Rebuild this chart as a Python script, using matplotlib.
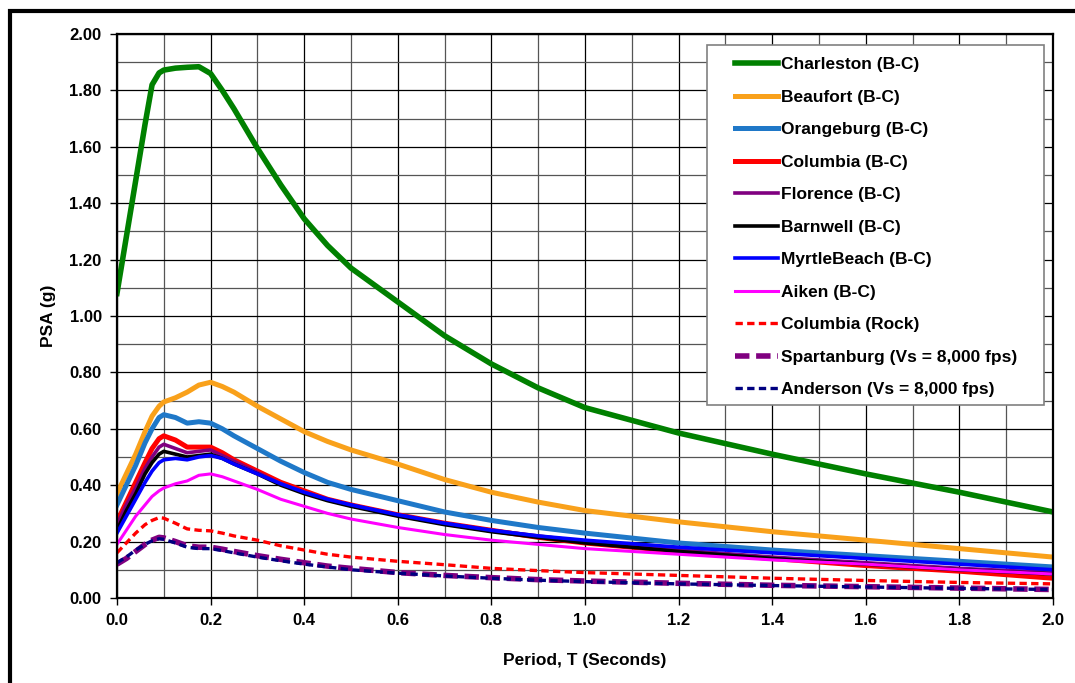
import matplotlib
matplotlib.use('Agg')
import matplotlib.pyplot as plt
from matplotlib.ticker import MultipleLocator, FormatStrFormatter
from matplotlib.patches import Rectangle

plt.rcParams['font.family'] = ['Liberation Sans', 'DejaVu Sans']
plt.rcParams['font.weight'] = 'bold'

## data (period in seconds, PSA in g)
period = [0.0, 0.02, 0.04, 0.06, 0.075, 0.09, 0.1, 0.125, 0.15, 0.175, 0.2, 0.225, 0.25, 0.3,
          0.35, 0.4, 0.45, 0.5, 0.6, 0.7, 0.8, 0.9, 1.0, 1.2, 1.4, 1.6, 1.8, 2.0]

charleston = [1.08, 1.28, 1.48, 1.68, 1.82, 1.862, 1.872, 1.879, 1.882, 1.884, 1.86, 1.80, 1.735, 1.595,
              1.465, 1.345, 1.25, 1.17, 1.05, 0.93, 0.83, 0.745, 0.675, 0.585, 0.51, 0.44, 0.375, 0.305]
beaufort = [0.37, 0.44, 0.51, 0.59, 0.645, 0.68, 0.695, 0.71, 0.73, 0.755, 0.765, 0.75, 0.73, 0.68,
            0.635, 0.59, 0.555, 0.525, 0.475, 0.42, 0.375, 0.34, 0.31, 0.27, 0.235, 0.205, 0.175, 0.145]
orangeburg = [0.33, 0.40, 0.47, 0.55, 0.60, 0.64, 0.65, 0.64, 0.62, 0.625, 0.62, 0.60, 0.575, 0.53,
              0.485, 0.445, 0.41, 0.385, 0.345, 0.305, 0.275, 0.25, 0.23, 0.195, 0.17, 0.15, 0.13, 0.11]
columbia = [0.27, 0.34, 0.41, 0.48, 0.53, 0.565, 0.575, 0.56, 0.535, 0.535, 0.535, 0.515, 0.49, 0.45,
            0.41, 0.38, 0.35, 0.33, 0.295, 0.265, 0.24, 0.215, 0.195, 0.165, 0.14, 0.115, 0.095, 0.07]
florence = [0.26, 0.33, 0.39, 0.46, 0.50, 0.535, 0.545, 0.53, 0.515, 0.52, 0.525, 0.505, 0.485, 0.445,
            0.405, 0.375, 0.35, 0.33, 0.295, 0.265, 0.24, 0.22, 0.2, 0.17, 0.145, 0.125, 0.105, 0.09]
barnwell = [0.24, 0.31, 0.37, 0.44, 0.48, 0.51, 0.52, 0.51, 0.50, 0.505, 0.51, 0.495, 0.475, 0.44,
            0.40, 0.37, 0.345, 0.325, 0.29, 0.26, 0.235, 0.215, 0.195, 0.165, 0.14, 0.12, 0.10, 0.085]
myrtle = [0.23, 0.29, 0.35, 0.41, 0.45, 0.48, 0.49, 0.495, 0.49, 0.50, 0.505, 0.495, 0.475, 0.44,
          0.405, 0.375, 0.35, 0.33, 0.295, 0.265, 0.24, 0.22, 0.205, 0.18, 0.16, 0.14, 0.12, 0.10]
aiken = [0.19, 0.24, 0.29, 0.33, 0.36, 0.38, 0.39, 0.405, 0.415, 0.435, 0.44, 0.43, 0.415, 0.385,
         0.35, 0.325, 0.30, 0.28, 0.25, 0.225, 0.205, 0.19, 0.175, 0.155, 0.135, 0.12, 0.10, 0.085]
columbia_rock = [0.16, 0.195, 0.23, 0.26, 0.275, 0.285, 0.283, 0.265, 0.245, 0.24, 0.238, 0.23, 0.22, 0.205,
                 0.185, 0.17, 0.155, 0.145, 0.13, 0.118, 0.105, 0.097, 0.09, 0.08, 0.07, 0.062, 0.055, 0.05]
spartanburg = [0.12, 0.14, 0.165, 0.19, 0.205, 0.215, 0.213, 0.2, 0.185, 0.18, 0.18, 0.173, 0.165, 0.15,
               0.137, 0.125, 0.113, 0.105, 0.09, 0.08, 0.072, 0.065, 0.06, 0.052, 0.045, 0.04, 0.035, 0.03]
anderson = [0.125, 0.145, 0.17, 0.19, 0.203, 0.21, 0.208, 0.195, 0.18, 0.175, 0.175, 0.168, 0.16, 0.145,
            0.132, 0.12, 0.11, 0.10, 0.088, 0.078, 0.07, 0.063, 0.058, 0.05, 0.044, 0.039, 0.034, 0.03]

## series settings: (label, data, color, lw, dashes)
series = [
    ('Charleston (B-C)', charleston, '#008000', 4.0, None),
    ('Beaufort (B-C)', beaufort, '#F9A11B', 3.6, None),
    ('Orangeburg (B-C)', orangeburg, '#1F78C8', 3.6, None),
    ('Columbia (B-C)', columbia, '#FF0000', 3.6, None),
    ('Florence (B-C)', florence, '#800080', 2.6, None),
    ('Barnwell (B-C)', barnwell, '#000000', 2.6, None),
    ('MyrtleBeach (B-C)', myrtle, '#0000FF', 2.6, None),
    ('Aiken (B-C)', aiken, '#FF00FF', 2.2, None),
    ('Columbia (Rock)', columbia_rock, '#FF0000', 2.4, (2.2, 1.3)),
    ('Spartanburg (Vs = 8,000 fps)', spartanburg, '#800080', 4.0, (2.6, 1.2)),
    ('Anderson (Vs = 8,000 fps)', anderson, '#000080', 2.4, (2.2, 1.3)),
]

fig = plt.figure(figsize=(10.75, 6.83), dpi=100)
ax = fig.add_axes([0.1088, 0.1245, 0.8707, 0.8257])

for lab, y, c, lw, ds in series:
    ln, = ax.plot(period, y, color=c, lw=lw, label=lab, solid_joinstyle='round')
    if ds is not None:
        ln.set_dashes(ds)

ax.set_xlim(0, 2.0)
ax.set_ylim(0, 2.0)
ax.xaxis.set_major_locator(MultipleLocator(0.2))
ax.xaxis.set_minor_locator(MultipleLocator(0.1))
ax.yaxis.set_major_locator(MultipleLocator(0.2))
ax.yaxis.set_minor_locator(MultipleLocator(0.1))
ax.xaxis.set_major_formatter(FormatStrFormatter('%.1f'))
ax.yaxis.set_major_formatter(FormatStrFormatter('%.2f'))
ax.grid(which='major', color='#000000', lw=0.9)
ax.grid(which='minor', color='#555555', lw=0.9)
ax.set_axisbelow(True)
ax.tick_params(which='major', direction='out', length=5, width=1, labelsize=12, pad=6)
ax.tick_params(which='minor', length=0)
for s in ax.spines.values():
    s.set_linewidth(1.6)
for t in ax.get_xticklabels() + ax.get_yticklabels():
    t.set_fontweight('bold')

ax.set_xlabel('Period, T (Seconds)', fontsize=12.5, fontweight='bold', labelpad=18)
ax.set_ylabel('PSA (g)', fontsize=12.5, fontweight='bold', labelpad=10)

## legend box drawn by hand, legend itself without frame
ax.add_patch(Rectangle((0.6303, 0.3422), 0.3601, 0.6383, transform=ax.transAxes,
                       fc='#FFFFFF', ec='#808080', lw=1.2, zorder=4))
leg = ax.legend(loc='upper left', bbox_to_anchor=(0.660, 0.959), borderaxespad=0.,
                borderpad=0., frameon=False, handlelength=2.48, handletextpad=0.17,
                labelspacing=1.0, prop={'weight': 'bold', 'size': 12.5})
leg.set_zorder(5)

## outer frame (top and left edges)
fig.add_artist(Rectangle((10/1075, -0.2), 2.0, 1.2 - 11/683, transform=fig.transFigure,
                         fill=False, ec='#000000', lw=3.0, clip_on=False))

fig.savefig('out.png', dpi=100)
